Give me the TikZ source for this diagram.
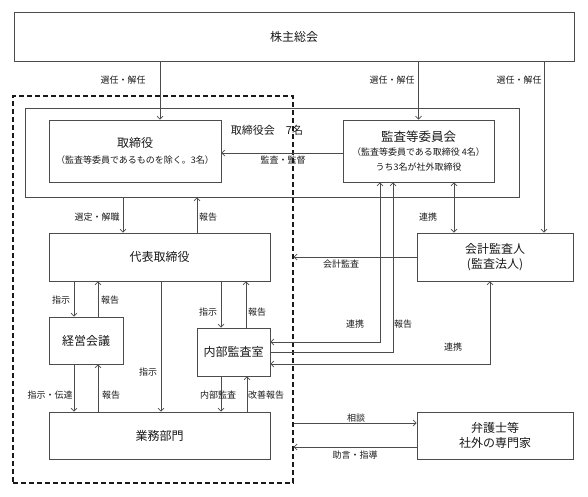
\documentclass[tikz,border=0pt]{standalone}
\usepackage{fontspec}
\setmainfont{Noto Sans CJK JP}
\usetikzlibrary{positioning,arrows.meta}

\begin{document}
\begin{tikzpicture}[x=1pt,y=-1pt,
  box/.style={draw=black!70,line width=0.7pt,text=black!90,align=center,
    inner sep=0pt,font=\fontsize{12}{15}\selectfont},
  small/.style={font=\fontsize{9}{11}\selectfont},
  lab/.style={text=black!90,inner sep=1pt,font=\fontsize{9}{10}\selectfont},
  arr/.style={draw=black!70,line width=0.7pt,-{Straight Barb[length=3pt,width=6pt]}},
  darr/.style={arr,{Straight Barb[length=3pt,width=6pt]}-{Straight Barb[length=3pt,width=6pt]}},
  grpbox/.style={draw=black!90,line width=1.2pt,dash pattern=on 5pt off 3pt}]
\useasboundingbox (0,0) rectangle (588,496);

% boxes
\node[box,minimum width=560,minimum height=49] (kabu) at (294,36.5) {株主総会};
\node[grpbox,minimum width=280,minimum height=387] (grp) at (153,289.5) {};
\node[box,minimum width=494,minimum height=89] (board) at (272,152.5) {};
\node[lab,font=\fontsize{11}{13}\selectfont] (boardname) at (267,130) {取締役会　7名};
\node[box,minimum width=172,minimum height=62] (tori) at (135,151)
  {取締役\\[1pt]{\small（監査等委員であるものを除く。3名）}};
\node[box,minimum width=151,minimum height=62] (kansa) at (418.5,151)
  {{\fontsize{12.5}{14}\selectfont 監査等委員会}\\[-1pt]
   {\fontsize{9}{11}\selectfont（監査等委員である取締役 4名）}\\
   {\fontsize{9}{11}\selectfont うち3名が社外取締役}};
\node[box,minimum width=221,minimum height=48] (daihyo) at (159.5,257) {代表取締役};
\node[box,minimum width=74,minimum height=47] (keiei) at (86,340.5) {経営会議};
\node[box,minimum width=73,minimum height=48] (naibu) at (233.5,352) {内部監査室};
\node[box,minimum width=221,minimum height=47] (gyomu) at (159.5,435.5) {業務部門};
\node[box,minimum width=156,minimum height=48] (kaikei) at (495,257) {会計監査人\\(監査法人)};
\node[box,minimum width=156,minimum height=47] (bengo) at (495,435.5) {弁護士等\\社外の専門家};

% shareholders
\draw[arr] ([xshift=25]tori.north |- kabu.south) -- ([xshift=25]tori.north);
\draw[arr] (kansa.north |- kabu.south) -- (kansa.north);
\draw[arr] ([xshift=49]kaikei.north |- kabu.south) -- ([xshift=49]kaikei.north);
\node[lab] (sen1) at (123,80) {選任・解任};
\node[lab] (sen2) at (392,80) {選任・解任};
\node[lab] (sen3) at (519,80) {選任・解任};

% board
\draw[arr] ([yshift=-2]kansa.west) -- ([yshift=-2]kansa.west -| tori.east);
\node[lab] (kantoku) at (283,160) {監査・監督};
\draw[arr] ([xshift=-36.5]daihyo.north |- board.south) -- ([xshift=-36.5]daihyo.north);
\draw[arr] ([xshift=37.5]daihyo.north) -- ([xshift=37.5]daihyo.north |- board.south);
\node[lab] (sentei) at (97,217) {選定・解職};
\node[lab] (hok1) at (208,217) {報告};

% representative director
\draw[arr] ([xshift=-12]keiei.north |- daihyo.south) -- ([xshift=-12]keiei.north);
\draw[arr] ([xshift=12]keiei.north) -- ([xshift=12]keiei.north |- daihyo.south);
\node[lab] (shiji1) at (61,300) {指示};
\node[lab] (hok2) at (110,300) {報告};
\draw[arr] ([xshift=-12.5]naibu.north |- daihyo.south) -- ([xshift=-12.5]naibu.north);
\draw[arr] ([xshift=12.5]naibu.north) -- ([xshift=12.5]naibu.north |- daihyo.south);
\node[lab] (shiji2) at (208,312) {指示};
\node[lab] (hok3) at (257,312) {報告};
\draw[arr] ([xshift=1.5]daihyo.south) -- ([xshift=1.5]daihyo.south |- gyomu.north);
\node[lab] (shiji3) at (148,372) {指示};

% to business departments
\draw[arr] ([xshift=-12]keiei.south) -- ([xshift=-12]keiei.south |- gyomu.north);
\draw[arr] ([xshift=12]keiei.south |- gyomu.north) -- ([xshift=12]keiei.south);
\node[lab] (dentatsu) at (50,395) {指示・伝達};
\node[lab] (hok4) at (111,395) {報告};
\draw[arr] ([xshift=-12.5]naibu.south) -- ([xshift=-12.5]naibu.south |- gyomu.north);
\draw[arr] ([xshift=13.5]naibu.south |- gyomu.north) -- ([xshift=13.5]naibu.south);
\node[lab] (naikan) at (218,395) {内部監査};
\node[lab] (kaizen) at (266,395) {改善報告};

% audit links
\draw[darr] ([xshift=-38.5]kansa.south) |- ([yshift=10]naibu.east);
\draw[arr] (naibu.east) -| ([xshift=-25.5]kansa.south);
\draw[darr] ([xshift=-5]kaikei.south) |- ([yshift=-12]naibu.east);
\draw[darr] ([xshift=35.5]kansa.south) -- ([xshift=35.5]kansa.south |- kaikei.north);
\node[lab] (renk1) at (355,324) {連携};
\node[lab] (hok5) at (403,324) {報告};
\node[lab] (renk2) at (453,347) {連携};
\node[lab] (renk3) at (428,217) {連携};
\draw[arr] (kaikei.west) -- (kaikei.west -| grp.east);
\node[lab] (kaikan) at (341,264) {会計監査};

% outside experts
\draw[arr] ([yshift=12.5]bengo.west -| grp.east) -- ([yshift=12.5]bengo.west);
\draw[arr] ([yshift=-11.5]bengo.west) -- ([yshift=-11.5]bengo.west -| grp.east);
\node[lab] (sodan) at (356,418) {相談};
\node[lab] (jogen) at (355,455) {助言・指導};
\end{tikzpicture}
\end{document}
